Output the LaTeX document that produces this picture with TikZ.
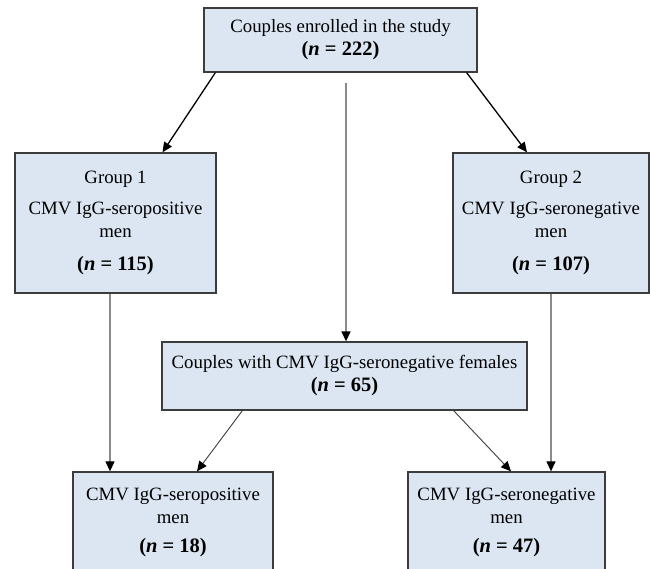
\documentclass[tikz,border=0pt]{standalone}
\usepackage{fontspec}
\setmainfont{Liberation Serif}
\usetikzlibrary{arrows.meta}
\usepackage{xcolor}
\definecolor{boxfill}{HTML}{DCE6F2}
\definecolor{boxline}{HTML}{3C3C3C}
\definecolor{linegray}{HTML}{8A8A8A}
\newcommand{\cnt}[1]{{\fontsize{20.5}{23}\selectfont\textbf{(\textit{n} = #1)}}}

\begin{document}
\begin{tikzpicture}[x=1pt, y=-1pt,
  box/.style={draw=boxline, line width=1.3pt, fill=boxfill, align=center, inner sep=0pt,
    font=\fontsize{18.8}{23}\selectfont},
  >={Triangle[black, length=10pt, width=9pt]}]
\clip (0,0) rectangle (650,569);
% boxes
\node[box, minimum width=273, minimum height=64] (top) at (340.5,40)
  {Couples enrolled in the study\\ \cnt{222}};
\node[box, minimum width=201, minimum height=140] (grpa) at (115.5,223)
  {Group 1\\[8pt] CMV IgG-seropositive\\ men\\[10pt] \cnt{115}};
\node[box, minimum width=196, minimum height=140] (grpb) at (551,223)
  {Group 2\\[8pt] CMV IgG-seronegative\\ men\\[10pt] \cnt{107}};
\node[box, minimum width=365, minimum height=68] (mid) at (344.5,376)
  {Couples with CMV IgG-seronegative females\\ \cnt{65}};
\node[box, minimum width=200, minimum height=100] (lowa) at (173,522)
  {CMV IgG-seropositive\\ men\\[6pt] \cnt{18}};
\node[box, minimum width=197, minimum height=100] (lowb) at (506.5,522)
  {CMV IgG-seronegative\\ men\\[6pt] \cnt{47}};
% arrows
\draw[black, line width=1.3pt, ->] ([xshift=12pt]top.south west) -- ([xshift=47pt]grpa.north);
\draw[black, line width=1.3pt, ->] ([xshift=-11pt]top.south east) -- ([xshift=-24pt]grpb.north);
\draw[linegray, line width=1.5pt, ->] ([xshift=5.5pt, yshift=-10pt]top.south) -- ([xshift=1.5pt]mid.north);
\draw[linegray, line width=1.2pt, ->] ([xshift=-5.5pt]grpa.south) -- ([xshift=-5.5pt]grpa.south |- lowa.north);
\draw[linegray, line width=1.2pt, ->] (grpb.south) -- (grpb.south |- lowb.north);
\draw[boxline, line width=0.9pt, ->] ([xshift=81pt]mid.south west) -- ([xshift=24pt]lowa.north);
\draw[boxline, line width=0.9pt, ->] ([xshift=-74pt]mid.south east) -- ([xshift=4.5pt]lowb.north);
\end{tikzpicture}
\end{document}
